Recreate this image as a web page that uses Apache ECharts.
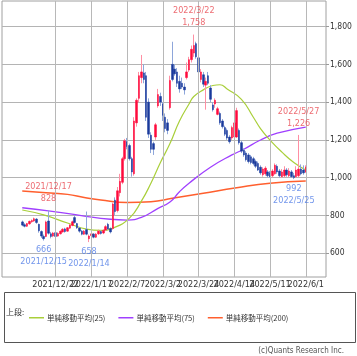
<!DOCTYPE html>
<html><head><meta charset="utf-8">
<script src="https://cdn.jsdelivr.net/npm/echarts@6/dist/echarts.min.js"></script>
<style>html,body{margin:0;padding:0;background:#fff}#c{width:357px;height:356px}</style>
</head><body><div id="c"></div>
<script>
// ---- data ----
const leadDates = ['2021/11/19','2021/11/22','2021/11/24','2021/11/25','2021/11/26','2021/11/29','2021/11/30','2021/12/1'];
const tradeDates = [
 '2021/12/2','2021/12/3','2021/12/6','2021/12/7','2021/12/8','2021/12/9','2021/12/10','2021/12/13','2021/12/14','2021/12/15','2021/12/16','2021/12/17','2021/12/20','2021/12/21','2021/12/22','2021/12/23','2021/12/24','2021/12/27','2021/12/28','2021/12/29','2021/12/30',
 '2022/1/4','2022/1/5','2022/1/6','2022/1/7','2022/1/11','2022/1/12','2022/1/13','2022/1/14','2022/1/17','2022/1/18','2022/1/19','2022/1/20','2022/1/21','2022/1/24','2022/1/25','2022/1/26','2022/1/27','2022/1/28','2022/1/31',
 '2022/2/1','2022/2/2','2022/2/3','2022/2/4','2022/2/7','2022/2/8','2022/2/9','2022/2/10','2022/2/14','2022/2/15','2022/2/16','2022/2/17','2022/2/18','2022/2/21','2022/2/22','2022/2/24','2022/2/25','2022/2/28',
 '2022/3/1','2022/3/2','2022/3/3','2022/3/4','2022/3/7','2022/3/8','2022/3/9','2022/3/10','2022/3/11','2022/3/14','2022/3/15','2022/3/16','2022/3/17','2022/3/18','2022/3/22','2022/3/23','2022/3/24','2022/3/25','2022/3/28','2022/3/29','2022/3/30','2022/3/31',
 '2022/4/1','2022/4/4','2022/4/5','2022/4/6','2022/4/7','2022/4/8','2022/4/11','2022/4/12','2022/4/13','2022/4/14','2022/4/15','2022/4/18','2022/4/19','2022/4/20','2022/4/21','2022/4/22','2022/4/25','2022/4/26','2022/4/27','2022/4/28',
 '2022/5/2','2022/5/6','2022/5/9','2022/5/10','2022/5/11','2022/5/12','2022/5/13','2022/5/16','2022/5/17','2022/5/18','2022/5/19','2022/5/20','2022/5/23','2022/5/24','2022/5/25','2022/5/26','2022/5/27','2022/5/30','2022/5/31',
 '2022/6/1'];
const tailDates = ['2022/6/2','2022/6/3','2022/6/6','2022/6/7','2022/6/8','2022/6/9','2022/6/10','2022/6/13'];

const openP = [
 765,750,742,755,766,770,780,752,714,688,688,770,702,690,708,690,702,712,728,716,732,
 746,788,756,732,716,700,724,676,692,700,684,702,714,706,722,752,730,730,880,
 825,920,975,1100,1190,1170,1100,1020,1290,1420,1530,1555,1540,1400,1225,1180,1215,1380,
 1430,1390,1320,1290,1370,1600,1575,1560,1510,1500,1480,1530,1570,1625,1660,1710,1635,1520,1545,1490,1540,1475,
 1385,1390,1335,1340,1300,1265,1250,1215,1210,1215,1215,1250,1185,1145,1130,1120,1110,1100,1085,1075,
 1055,1015,1020,1030,1025,1010,1020,1060,1035,1005,1010,1040,1010,1030,1010,1005,1010,1045,1040,
 1030];
const closeP = [
 748,742,756,768,772,782,762,718,690,676,765,705,688,706,688,704,716,726,714,734,748,
 766,762,734,716,700,716,700,690,702,684,700,716,704,720,740,728,712,860,820,
 930,980,1100,1195,1165,1100,1030,1300,1410,1540,1560,1520,1320,1230,1150,1150,1280,1440,
 1400,1330,1260,1250,1515,1520,1550,1500,1470,1480,1465,1560,1625,1680,1700,1640,1560,1560,1495,1510,1500,1415,
 1360,1410,1365,1290,1270,1230,1210,1190,1265,1290,1355,1185,1140,1120,1095,1085,1080,1075,1060,1040,
 1025,1045,1050,1010,1005,1035,1065,1030,1010,1030,1040,1015,1035,1005,1000,1040,1045,1020,1025,
 1055];
const lowP = [
 742,736,738,750,760,765,755,708,680,666,684,698,678,684,680,686,698,708,708,712,728,
 742,756,728,708,694,696,694,658,684,678,680,696,698,700,716,722,704,724,800,
 815,900,965,1090,1150,1090,1005,1010,1270,1400,1500,1500,1300,1210,1130,1120,1200,1370,
 1380,1300,1240,1230,1360,1510,1540,1480,1450,1470,1440,1520,1560,1610,1640,1630,1550,1505,1480,1360,1490,1400,
 1350,1370,1330,1280,1260,1220,1200,1180,1200,1205,1210,1175,1130,1110,1085,1075,1070,1065,1050,1035,
 1015,1005,1010,1000,998,1000,1015,1020,1000,998,1000,1005,1000,998,992,1000,1000,1012,1015,
 1025];
const highP = [
 772,758,760,772,778,788,785,756,720,698,772,828,712,712,716,710,720,732,734,738,754,
 772,800,760,738,722,722,820,698,712,706,706,724,720,726,748,760,736,868,895,
 950,1020,1110,1205,1210,1180,1110,1320,1420,1560,1650,1600,1560,1420,1240,1190,1290,1470,
 1450,1400,1340,1310,1540,1720,1600,1580,1540,1530,1500,1610,1640,1700,1758,1720,1650,1575,1560,1530,1560,1490,
 1400,1420,1375,1350,1310,1275,1260,1225,1275,1300,1370,1260,1195,1155,1140,1130,1120,1110,1095,1085,
 1065,1055,1060,1040,1035,1045,1075,1070,1045,1045,1060,1050,1050,1040,1025,1060,1226,1070,1065,
 1065];

const ma25 = [['2021/12/2',828],['2021/12/15',802],['2021/12/29',759],['2022/1/13',727],['2022/1/21',720],['2022/1/28',732],['2022/2/8',785],['2022/2/16',875],['2022/2/22',970],['2022/3/1',1080],['2022/3/7',1180],['2022/3/11',1300],['2022/3/17',1390],['2022/3/22',1430],['2022/3/28',1465],['2022/4/1',1488],['2022/4/6',1492],['2022/4/11',1470],['2022/4/19',1415],['2022/4/26',1320],['2022/5/2',1260],['2022/5/11',1199],['2022/5/18',1135],['2022/5/25',1080],['2022/6/1',1040]];
const ma75 = [['2021/12/2',840],['2021/12/17',824],['2022/1/12',796],['2022/1/27',779],['2022/2/7',775],['2022/2/16',789],['2022/2/28',837],['2022/3/7',870],['2022/3/11',925],['2022/3/17',970],['2022/3/31',1055],['2022/4/13',1120],['2022/4/20',1150],['2022/5/2',1199],['2022/5/16',1235],['2022/6/1',1268]];
const ma200 = [['2021/12/2',929],['2021/12/16',920],['2021/12/29',911],['2022/1/12',895],['2022/1/21',881],['2022/2/7',868],['2022/2/22',872],['2022/3/8',890],['2022/3/28',917],['2022/4/15',946],['2022/5/11',970],['2022/6/1',982]];

const yTicks = [600,800,1000,1200,1400,1600,1800];
const xTickDates = ['2021/12/22','2022/1/17','2022/2/7','2022/3/2','2022/3/24','2022/4/14','2022/5/11','2022/6/1'];
const highNotes = [['2021/12/17',828],['2022/3/22',1758],['2022/5/27',1226]];
const lowNotes = [['2021/12/15',666],['2022/1/14',658],['2022/5/25',992]];
const maNames = ['単純移動平均(25)','単純移動平均(75)','単純移動平均(200)'];

// ---- build ----
const categories = leadDates.concat(tradeDates, tailDates);
const pad = leadDates.map(() => '-');
const wickData = pad.concat(tradeDates.map((d,i) => [openP[i], closeP[i], lowP[i], highP[i]]));
const bodyData = pad.concat(tradeDates.map((d,i) => [openP[i], closeP[i], Math.min(openP[i],closeP[i]), Math.max(openP[i],closeP[i])]));
const fmt = (v) => v.toLocaleString('en-US');
const NARROW = "'Liberation Sans Narrow','DejaVu Sans Condensed','Liberation Sans',sans-serif";
const CJK = "'Noto Sans CJK JP',sans-serif";
const RED_T = '#e8474f', BLUE_T = '#4d7be6';

const chart = echarts.init(document.getElementById('c'), null, {renderer:'canvas'});
chart.setOption({
  animation: false,
  backgroundColor: '#fff',
  grid: {left: 2, right: 31, top: 1, bottom: 79, show: true, borderColor: '#a0a0a0', borderWidth: 1},
  xAxis: {
    type: 'category', data: categories, boundaryGap: true,
    axisLine: {show: false}, axisTick: {show: false}, axisLabel: {show: false}, splitLine: {show: false}
  },
  yAxis: {
    type: 'value', position: 'right', min: 473, max: 1936, scale: true,
    axisLine: {show: false},
    axisTick: {show: true, length: 3, customValues: yTicks, lineStyle: {color: '#999'}},
    axisLabel: {customValues: yTicks, fontSize: 8.5, color: '#333', margin: 4, fontFamily: NARROW, formatter: (v) => fmt(v)},
    splitLine: {show: true, lineStyle: {color: '#b4b4b4', width: 1}}
  },
  legend: {
    data: maNames, left: 24, top: 309, itemWidth: 15, itemHeight: 1.5, itemGap: 13, icon: 'rect',
    textStyle: {fontSize: 7.5, color: '#333', fontFamily: CJK, padding: [0,0,0,-2]}
  },
  graphic: [
    {type: 'rect', left: 2, top: 290, shape: {width: 351, height: 50}, style: {fill: 'none', stroke: '#555', lineWidth: 1}},
    {type: 'text', left: 6, top: 308, style: {text: '上段:', fontSize: 8, fill: '#333', fontFamily: CJK}},
    {type: 'text', right: 13, top: 347, style: {text: '(c)Quants Research Inc.', fontSize: 8, fill: '#555', fontFamily: NARROW}}
  ],
  series: [
    {type: 'line', name: 'grid', data: [], silent: true, z: 1,
     markLine: {silent: true, symbol: 'none', animation: false,
       lineStyle: {color: '#b8b8b8', width: 1, type: 'solid'},
       label: {show: true, position: 'start', distance: 3, fontSize: 9, color: '#333', fontFamily: NARROW, formatter: (p) => p.name},
       data: xTickDates.map(d => ({name: d, xAxis: categories.indexOf(d)}))}},
    {type: 'line', name: maNames[2], data: ma200, smooth: true, symbol: 'none', lineStyle: {color: '#ff5f2e', width: 1.5}, itemStyle: {color: '#ff5f2e'}, z: 2},
    {type: 'line', name: maNames[1], data: ma75, smooth: true, symbol: 'none', lineStyle: {color: '#a040ff', width: 1.3}, itemStyle: {color: '#a040ff'}, z: 2},
    {type: 'line', name: maNames[0], data: ma25, smooth: true, symbol: 'none', lineStyle: {color: '#a9cf3a', width: 1.2}, itemStyle: {color: '#a9cf3a'}, z: 2},
    {type: 'candlestick', name: 'wick', data: wickData, barWidth: 1,
     itemStyle: {color: '#ff8fa3', color0: '#8ea6da', borderColor: '#ff8fa3', borderColor0: '#8ea6da', borderWidth: 1}, z: 3},
    {type: 'candlestick', name: 'body', data: bodyData, barWidth: 2,
     itemStyle: {color: '#ff0a3c', color0: '#1a3a9c', borderColor: '#ff0a3c', borderColor0: '#1a3a9c', borderWidth: 0.5}, z: 4},
    {type: 'scatter', name: 'hi', data: highNotes, symbolSize: 1, itemStyle: {color: 'rgba(0,0,0,0)'}, z: 6,
     label: {show: true, position: 'top', distance: 5, color: RED_T, fontSize: 9, lineHeight: 12, fontFamily: NARROW,
       formatter: (p) => p.value[0] + '\n' + fmt(p.value[1])}},
    {type: 'scatter', name: 'lo', data: lowNotes, symbolSize: 1, itemStyle: {color: 'rgba(0,0,0,0)'}, z: 6,
     label: {show: true, position: 'bottom', distance: 3, color: BLUE_T, fontSize: 9, lineHeight: 12, fontFamily: NARROW,
       formatter: (p) => fmt(p.value[1]) + '\n' + p.value[0]}}
  ]
});
</script></body></html>
